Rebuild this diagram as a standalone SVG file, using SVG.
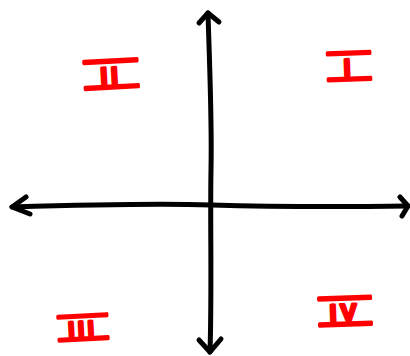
<svg xmlns="http://www.w3.org/2000/svg" width="410" height="356" viewBox="0 0 410 356">
<style>
.ax{fill:none;stroke:#000;stroke-width:5;stroke-linecap:round;stroke-linejoin:round}
.num{font-family:"Liberation Sans",Arial,sans-serif;font-weight:bold;font-size:24px;letter-spacing:4px;fill:#f00;stroke:#f00;stroke-width:3;stroke-linejoin:round;stroke-linecap:round;text-anchor:middle;text-decoration:overline underline;white-space:pre}
</style>
<rect width="410" height="356" fill="#fff"/>
<g id="connectors">
<path class="ax" d="M208,13 C210,80 212,120 211,170 C210,220 212,290 210,352"/>
<path class="ax" d="M12,207 C80,205 150,203 211,205 C280,207 340,207 408,206"/>
<path class="ax" d="M199,23 L208,13 L219,22"/>
<path class="ax" d="M199,340 L210,352 L221,339"/>
<path class="ax" d="M26,197 L12,207 L30,214"/>
<path class="ax" d="M400,197 L408,206 L402,216"/>
</g>
<g id="q1"><text class="num" x="349" y="76" transform="rotate(-2 347 65)">&#8194;I&#8194;</text></g>
<g id="q2"><text class="num" x="111" y="84" transform="rotate(-3 109 72)">&#8194;II&#8194;</text></g>
<g id="q3"><text class="num" x="83" y="336" style="font-size:21px" transform="rotate(-3 81 328)">&#160;III&#160;</text></g>
<g id="q4"><text class="num" x="345" y="321" transform="rotate(-2 343 310)">&#160;IV&#160;</text></g>
</svg>
